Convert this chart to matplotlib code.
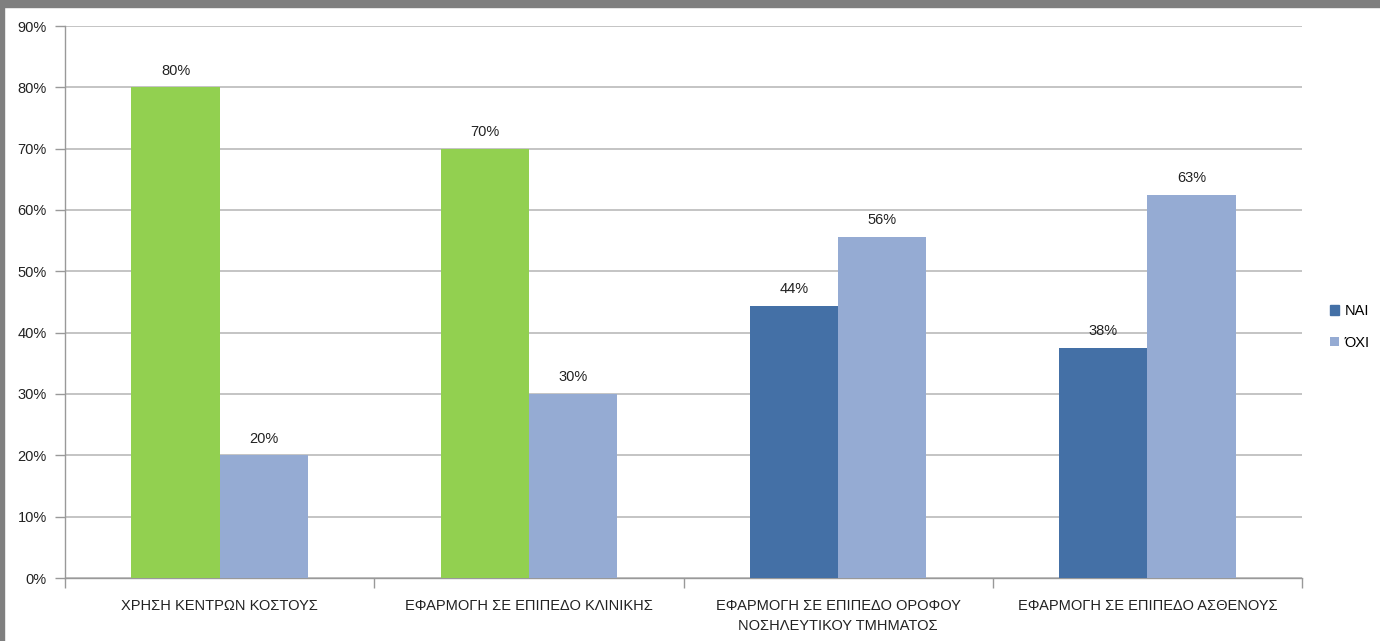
import matplotlib.pyplot as plt
from matplotlib.patches import Rectangle
import numpy as np
import math

categories = ["ΧΡΗΣΗ ΚΕΝΤΡΩΝ ΚΟΣΤΟΥΣ",
              "ΕΦΑΡΜΟΓΗ ΣΕ ΕΠΙΠΕΔΟ ΚΛΙΝΙΚΗΣ",
              "ΕΦΑΡΜΟΓΗ ΣΕ ΕΠΙΠΕΔΟ ΟΡΟΦΟΥ\nΝΟΣΗΛΕΥΤΙΚΟΥ ΤΜΗΜΑΤΟΣ",
              "ΕΦΑΡΜΟΓΗ ΣΕ ΕΠΙΠΕΔΟ ΑΣΘΕΝΟΥΣ"]
nai = [0.80, 0.70, 0.444, 0.375]
oxi = [0.20, 0.30, 0.556, 0.625]
series_names = ["ΝΑΙ", "ΌΧΙ"]

blue_dark = "#4470A6"
blue_light = "#95ABD3"
green = "#92D050"
nai_colors = [green, green, blue_dark, blue_dark]

plt.rcParams['font.family'] = ['Liberation Sans', 'DejaVu Sans']

fig = plt.figure(figsize=(13.8, 6.41), dpi=100)
ax = fig.add_axes([65 / 1380, 1 - 578 / 641, (1302 - 65) / 1380, (578 - 26) / 641])

x = np.arange(len(categories))
w = 0.285
b1 = ax.bar(x - w / 2, nai, w, color=nai_colors, label=series_names[0], zorder=3)
b2 = ax.bar(x + w / 2, oxi, w, color=blue_light, label=series_names[1], zorder=3)


def pct(v):
    # round half up, like the spreadsheet does
    return f"{math.floor(v * 100 + 0.5 + 1e-9):d}%"


for bars, vals in ((b1, nai), (b2, oxi)):
    for r, v in zip(bars, vals):
        ax.annotate(pct(v), (r.get_x() + r.get_width() / 2, v),
                    xytext=(0, 7), textcoords="offset points",
                    ha="center", va="bottom", fontsize=10.5, color="#222222")

ax.set_xlim(-0.5, len(categories) - 0.5)
ax.set_ylim(0, 0.9)
ax.set_yticks(np.arange(0, 0.91, 0.1))
ax.set_yticklabels([f"{int(round(t * 100))}%" for t in np.arange(0, 0.91, 0.1)])
ax.yaxis.grid(True, color="#BFBFBF", linewidth=1.3, zorder=0)
ax.set_axisbelow(True)

ax.set_xticks(x)
ax.set_xticklabels(categories, fontsize=10.5, color="#222222", linespacing=1.55)
ax.tick_params(axis="x", length=0, pad=15)
ax.set_xticks(np.arange(-0.5, len(categories)), minor=True)
ax.tick_params(axis="x", which="minor", length=7, color="#999999", width=1)
ax.tick_params(axis="y", length=7, color="#999999", width=1, labelsize=10.5,
               labelcolor="#222222", pad=6)

for s in ("top", "right"):
    ax.spines[s].set_visible(False)
for s in ("left", "bottom"):
    ax.spines[s].set_color("#999999")
    ax.spines[s].set_linewidth(1)

leg = ax.legend(loc="center left", bbox_to_anchor=(1.012, 0.455), frameon=False,
                fontsize=10.5, handlelength=0.6, handleheight=0.6,
                handletextpad=0.4, labelspacing=1.2)
leg.legend_handles[0].set_color(blue_dark)

# window frame around the chart
fig.patches.append(Rectangle((0, 1 - 7 / 641), 1, 7 / 641, transform=fig.transFigure,
                             color="#7F7F7F", zorder=10))
fig.patches.append(Rectangle((0, 0), 4 / 1380, 1, transform=fig.transFigure,
                             color="#7F7F7F", zorder=10))

fig.savefig("out.png", dpi=100)
